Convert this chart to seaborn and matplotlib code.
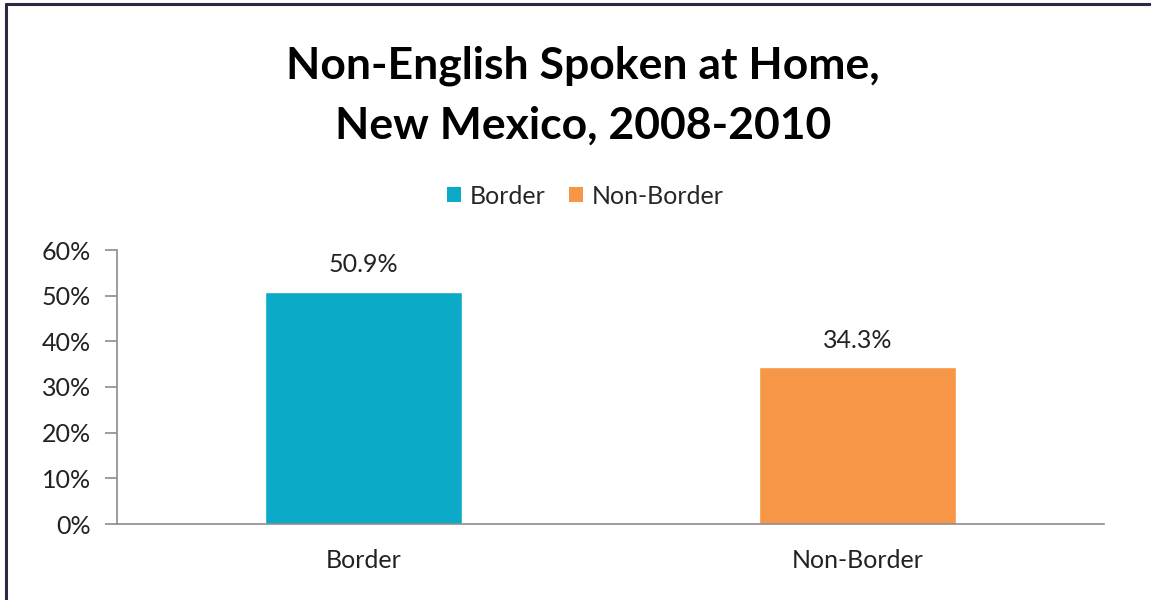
import matplotlib
matplotlib.use("Agg")
import matplotlib.pyplot as plt
from matplotlib.patches import Patch
from matplotlib.lines import Line2D
import seaborn as sns
import pandas as pd

categories = ["Border", "Non-Border"]
values = [50.9, 34.3]
colors = ["#0BABC7", "#F79646"]
y_ticks = [0, 10, 20, 30, 40, 50, 60]
title_lines = ["Non-English Spoken at Home,", "New Mexico, 2008-2010"]

sns.set_theme(style="white")
plt.rcParams["font.family"] = ["Lato", "DejaVu Sans"]

df = pd.DataFrame({"region": categories, "pct": values})

fig = plt.figure(figsize=(11.51, 6.0), dpi=100)
fig.patch.set_facecolor("white")

ax = fig.add_axes([117 / 1151, 76 / 600, 987 / 1151, 274 / 600])
sns.barplot(data=df, x="region", y="pct", hue="region", palette=colors,
            width=0.4, legend=False, ax=ax, saturation=1)

ax.set_ylim(0, 60)
ax.set_xlim(-0.5, 1.5)
ax.set_yticks(y_ticks)
ax.set_yticklabels([f"{t}%" for t in y_ticks])
ax.set_xlabel("")
ax.set_ylabel("")

for side in ["top", "right"]:
    ax.spines[side].set_visible(False)
for side in ["left", "bottom"]:
    ax.spines[side].set_color("#8C8C8C")
    ax.spines[side].set_linewidth(1.2)

label_size = 18
ax.tick_params(axis="y", which="major", length=9, width=1.2, color="#8C8C8C",
               direction="out", left=True, labelsize=label_size, labelcolor="#222222", pad=10)
ax.tick_params(axis="x", length=0, labelsize=label_size, labelcolor="#222222", pad=18)

for container in ax.containers:
    ax.bar_label(container, labels=[f"{v:.1f}%" for v in container.datavalues],
                 padding=11, fontsize=label_size, color="#222222")

# Title
fig.text(583 / 1151, 1 - 66 / 600, title_lines[0], ha="center", va="center",
         fontsize=32, fontweight="bold", color="black")
fig.text(583 / 1151, 1 - 126 / 600, title_lines[1], ha="center", va="center",
         fontsize=32, fontweight="bold", color="black")

# Legend
handles = [Patch(facecolor=c, edgecolor="none") for c in colors]
fig.legend(handles, categories, loc="center", bbox_to_anchor=(585 / 1151, 1 - 196 / 600),
           ncol=2, frameon=False, fontsize=label_size, handlelength=0.55, handleheight=0.55,
           handletextpad=0.35, columnspacing=0.95)

# Chart frame on the left and top edges
frame_color = "#2B2946"
fig.add_artist(Line2D([6 / 1151, 6 / 1151], [0, 1 - 4 / 600], transform=fig.transFigure,
                      color=frame_color, linewidth=2.2))
fig.add_artist(Line2D([6 / 1151, 1], [1 - 4 / 600, 1 - 4 / 600], transform=fig.transFigure,
                      color=frame_color, linewidth=2.2))

fig.savefig("out.png", dpi=100, facecolor="white")
